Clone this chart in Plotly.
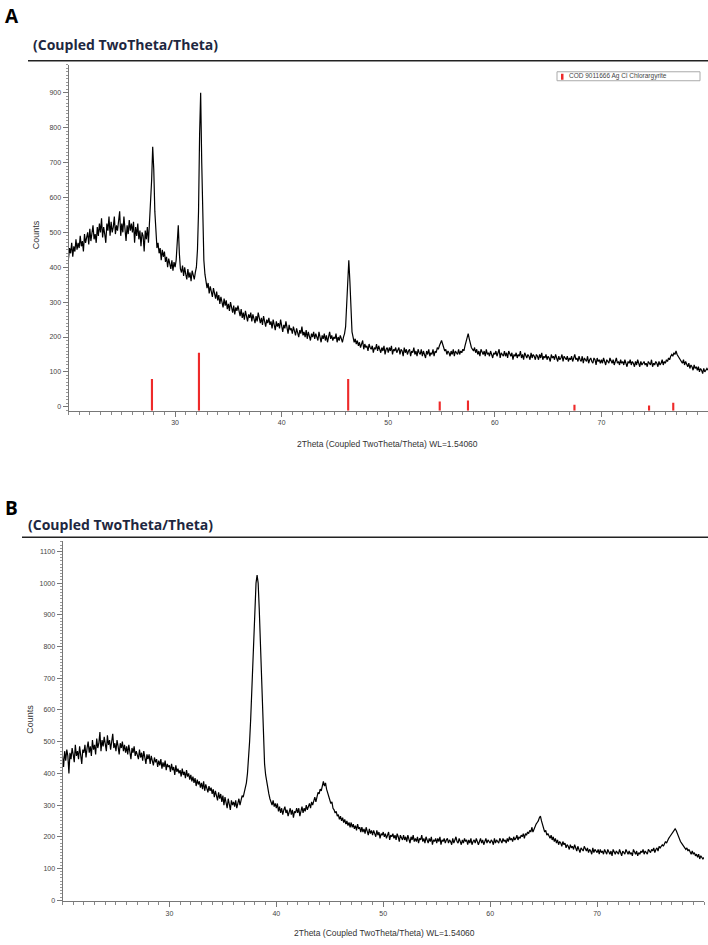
import numpy as np
import plotly.graph_objects as go

# scan positions (2theta, deg), step 0.1
two_theta = np.round(20 + 0.1 * np.arange(601), 1)

# panel A counts (one row per degree)
counts_a = [
    425, 455, 440, 470, 430, 460, 445, 480, 450, 470,
    455, 490, 460, 475, 445, 495, 470, 485, 500, 465,
    510, 475, 500, 520, 480, 495, 470, 515, 490, 525,
    500, 540, 485, 515, 495, 470, 525, 505, 545, 490,
    530, 500, 515, 545, 495, 520, 505, 535, 560, 490,
    525, 500, 545, 510, 475, 520, 495, 535, 505, 525,
    500, 530, 470, 515, 490, 525, 480, 505, 460, 500,
    490, 445, 505, 480, 515, 470, 530, 560, 650, 745,
    680, 560, 480, 455, 470, 440, 455, 420, 450, 430,
    445, 415, 430, 400, 425, 410, 395, 420, 390, 415,
    400, 420, 470, 520, 440, 395, 385, 405, 375, 400,
    380, 365, 395, 370, 385, 360, 390, 375, 365, 385,
    400, 450, 560, 780, 900, 700, 520, 420, 380, 355,
    340, 355, 325, 345, 330, 315, 340, 320, 310, 330,
    305, 320, 295, 315, 300, 285, 310, 290, 305, 280,
    295, 275, 300, 285, 270, 290, 265, 285, 275, 290,
    270, 260, 280, 255, 270, 250, 275, 260, 245, 265,
    255, 270, 245, 265, 250, 240, 260, 245, 270, 250,
    240, 255, 235, 260, 245, 230, 250, 240, 255, 235,
    245, 225, 250, 235, 220, 245, 230, 240, 225, 250,
    230, 215, 235, 225, 245, 220, 210, 235, 220, 225,
    210, 230, 215, 205, 225, 215, 200, 220, 210, 230,
    205, 215, 200, 220, 195, 215, 205, 190, 210, 200,
    215, 195, 210, 200, 190, 215, 200, 185, 205, 195,
    210, 190, 205, 185, 200, 215, 195, 205, 190, 200,
    195, 210, 185, 200, 190, 205, 195, 185, 200, 210,
    230, 290, 380, 420, 360, 260, 215, 200, 185, 195,
    180, 190, 175, 185, 170, 180, 190, 165, 180, 170,
    175, 160, 180, 170, 165, 175, 155, 170, 165, 180,
    160, 175, 165, 155, 170, 160, 175, 150, 165, 170,
    155, 170, 160, 175, 150, 165, 160, 170, 155, 165,
    170, 150, 165, 160, 145, 170, 155, 165, 150, 160,
    165, 145, 160, 155, 170, 150, 160, 145, 165, 155,
    150, 165, 145, 160, 150, 140, 160, 150, 165, 145,
    155, 150, 165, 145, 160, 155, 170, 165, 175, 185,
    190, 180, 170, 160, 165, 150, 160, 155, 145, 160,
    150, 165, 145, 160, 155, 150, 165, 150, 160, 155,
    165, 160, 175, 190, 205, 210, 195, 180, 170, 165,
    160, 170, 155, 165, 150, 160, 145, 165, 155, 150,
    160, 145, 165, 150, 155, 145, 160, 150, 140, 155,
    150, 160, 145, 155, 165, 140, 155, 150, 145, 160,
    145, 155, 140, 160, 150, 145, 155, 135, 150, 145,
    155, 140, 150, 145, 160, 140, 150, 135, 155, 145,
    140, 150, 145, 135, 155, 140, 150, 145, 135, 150,
    145, 135, 150, 140, 155, 135, 145, 140, 150, 135,
    145, 140, 130, 150, 140, 145, 135, 150, 140, 130,
    145, 135, 140, 150, 130, 145, 140, 135, 145, 130,
    140, 135, 145, 130, 140, 150, 135, 140, 130, 145,
    135, 130, 145, 125, 140, 135, 130, 145, 125, 135,
    140, 130, 125, 140, 135, 120, 140, 130, 135, 125,
    135, 125, 140, 130, 120, 135, 130, 125, 140, 130,
    125, 135, 120, 130, 140, 125, 130, 120, 135, 125,
    130, 120, 135, 125, 115, 130, 125, 135, 120, 130,
    125, 115, 130, 120, 135, 125, 115, 130, 120, 125,
    130, 120, 125, 115, 130, 125, 120, 135, 115, 125,
    120, 130, 125, 115, 130, 120, 125, 135, 120, 130,
    125, 135, 130, 140, 135, 145, 150, 145, 155, 150,
    160, 150, 145, 140, 135, 130, 125, 135, 120, 130,
    120, 115, 125, 110, 120, 115, 105, 120, 110, 115,
    105, 115, 100, 110, 105, 95, 110, 100, 105, 110,
    105,
]

# panel B counts
counts_b = [
    455, 420, 470, 440, 475, 455, 400, 465, 445, 480,
    460, 435, 490, 455, 470, 445, 485, 460, 430, 475,
    465, 490, 450, 480, 500, 465, 485, 455, 505, 475,
    490, 460, 510, 480, 495, 530, 470, 505, 485, 515,
    495, 470, 520, 490, 505, 475, 500, 525, 480, 495,
    470, 505, 485, 460, 495, 480, 500, 470, 490, 465,
    485, 460, 490, 470, 445, 480, 465, 485, 455, 470,
    460, 445, 475, 450, 465, 440, 470, 455, 430, 460,
    445, 460, 430, 455, 440, 425, 450, 435, 445, 420,
    440, 425, 445, 415, 435, 420, 440, 410, 430, 420,
    425, 405, 430, 410, 420, 395, 425, 405, 415, 400,
    410, 390, 415, 395, 405, 385, 410, 390, 400, 380,
    395, 375, 390, 370, 385, 360, 380, 365, 375, 355,
    370, 350, 375, 345, 365, 355, 340, 360, 345, 355,
    335, 350, 325, 345, 330, 315, 340, 320, 335, 310,
    330, 300, 325, 310, 290, 320, 305, 285, 315, 300,
    310, 295, 315, 290, 305, 320, 300, 315, 330, 325,
    340, 355, 370, 400, 440, 500, 570, 660, 760, 870,
    950, 1000, 1025, 1000, 920, 810, 690, 580, 490, 430,
    395, 370, 350, 335, 320, 310, 300, 315, 295, 305,
    290, 305, 280, 295, 275, 290, 270, 285, 295, 275,
    285, 265, 280, 290, 270, 285, 260, 280, 275, 290,
    275, 290, 265, 285, 295, 275, 290, 280, 300, 285,
    295, 305, 290, 310, 300, 315, 325, 310, 330, 340,
    335, 350, 345, 365, 375, 360, 370, 350, 340, 330,
    320, 305, 310, 290, 285, 275, 280, 265, 270, 255,
    265, 250, 260, 245, 255, 240, 250, 235, 245, 230,
    245, 230, 240, 225, 235, 220, 240, 225, 230, 215,
    230, 215, 225, 210, 230, 215, 205, 225, 210, 220,
    205, 220, 210, 200, 220, 205, 215, 195, 210, 205,
    215, 200, 210, 195, 205, 215, 190, 205, 200, 210,
    195, 205, 190, 210, 200, 185, 205, 195, 190, 205,
    190, 200, 185, 205, 195, 180, 200, 190, 205, 185,
    195, 185, 200, 180, 195, 190, 205, 185, 195, 180,
    200, 190, 180, 195, 185, 200, 175, 190, 185, 195,
    180, 195, 185, 200, 175, 190, 185, 195, 180, 190,
    195, 180, 190, 185, 175, 195, 180, 190, 200, 185,
    180, 195, 185, 175, 190, 180, 195, 185, 190, 175,
    190, 180, 195, 175, 185, 190, 180, 195, 185, 175,
    185, 195, 180, 190, 175, 185, 195, 180, 190, 185,
    180, 190, 185, 175, 195, 180, 190, 185, 180, 195,
    185, 180, 195, 185, 190, 180, 195, 185, 200, 190,
    195, 185, 200, 190, 195, 205, 190, 200, 195, 205,
    200, 210, 195, 210, 205, 215, 210, 220, 215, 230,
    215, 225, 230, 240, 245, 250, 260, 265, 250, 235,
    225, 215, 220, 205, 210, 200, 195, 205, 190, 200,
    185, 195, 180, 190, 175, 185, 180, 170, 185, 175,
    180, 165, 175, 170, 160, 175, 165, 170, 160, 175,
    165, 155, 170, 160, 150, 165, 160, 155, 170, 160,
    155, 165, 150, 160, 155, 145, 165, 150, 160, 155,
    150, 160, 145, 160, 150, 155, 145, 160, 150, 145,
    160, 150, 145, 155, 140, 160, 150, 145, 155, 150,
    145, 160, 150, 140, 155, 150, 145, 160, 150, 145,
    155, 145, 150, 140, 160, 150, 145, 155, 140, 150,
    145, 155, 150, 160, 145, 155, 150, 145, 160, 155,
    150, 160, 155, 165, 150, 160, 165, 155, 170, 165,
    170, 175, 170, 180, 185, 180, 190, 195, 200, 205,
    210, 215, 220, 225, 220, 210, 200, 190, 185, 180,
    175, 170, 165, 160, 165, 155, 160, 150, 145, 155,
    145, 150, 140, 145, 135, 145, 130, 140, 135, 130,
    135,
]

# reference pattern COD 9011666 (AgCl)
ref_pos = [27.83, 32.24, 46.24, 54.83, 57.48, 67.47, 74.47, 76.74]
ref_int = [80, 155, 80, 15, 18, 6, 4, 12]

x_ticks = [30, 40, 50, 60, 70]
y_ticks_a = list(range(0, 1000, 100))
y_ticks_b = list(range(0, 1200, 100))

W, H = 708, 945
A_YMIN, A_YMAX = -11, 980
B_YMIN, B_YMAX = -3, 1132

fig = go.Figure()
fig.add_trace(go.Bar(x=ref_pos, y=[v - A_YMIN for v in ref_int], base=A_YMIN,
                     width=0.2, marker=dict(color="#ee2a2a", line_width=0),
                     xaxis="x", yaxis="y", showlegend=False))
fig.add_trace(go.Scatter(x=two_theta, y=counts_a, mode="lines",
                         line=dict(color="black", width=1.2),
                         xaxis="x", yaxis="y", showlegend=False))
fig.add_trace(go.Scatter(x=two_theta, y=counts_b, mode="lines",
                         line=dict(color="black", width=1.2),
                         xaxis="x2", yaxis="y2", showlegend=False))

tickfont = dict(family="Liberation Sans", size=7, color="#444")


def xax(domain, anchor):
    return dict(domain=domain, anchor=anchor, range=[20, 80], tickmode="array",
                tickvals=x_ticks, ticks="outside", ticklen=5, tickcolor="#777",
                showline=True, linecolor="#777", linewidth=1, showgrid=False,
                zeroline=False, tickfont=tickfont,
                minor=dict(dtick=1, tick0=0, ticks="outside", ticklen=3,
                           tickcolor="#888", showgrid=False))


def yax(domain, anchor, rng, vals):
    return dict(domain=domain, anchor=anchor, range=rng, tickmode="array",
                tickvals=vals, ticks="outside", ticklen=5, tickcolor="#777",
                showline=True, linecolor="#777", linewidth=1, showgrid=False,
                zeroline=False, tickfont=tickfont,
                minor=dict(dtick=10, tick0=0, ticks="outside", ticklen=2,
                           tickcolor="#999", showgrid=False))


fig.update_layout(
    width=W, height=H, margin=dict(l=0, r=0, t=0, b=0),
    paper_bgcolor="white", plot_bgcolor="white",
    xaxis=xax([68.5 / W, 1.0], "y"),
    yaxis=yax([1 - 412 / H, 1 - 65 / H], "x", [A_YMIN, A_YMAX], y_ticks_a),
    xaxis2=xax([62.5 / W, 704 / W], "y2"),
    yaxis2=yax([1 - 904 / H, 1 - 543 / H], "x2", [B_YMIN, B_YMAX], y_ticks_b),
)


def text(x, y, s, size, color="#333", bold=False, family="Liberation Sans",
         angle=0, xanchor="center"):
    fig.add_annotation(x=x / W, y=1 - y / H, xref="paper", yref="paper",
                       text=f"<b>{s}</b>" if bold else s, showarrow=False,
                       textangle=angle, xanchor=xanchor, yanchor="middle",
                       font=dict(family=family, size=size, color=color))


def rect(x0, x1, y0, y1, **kw):
    fig.add_shape(type="rect", xref="paper", yref="paper",
                  x0=x0 / W, x1=x1 / W, y0=1 - y1 / H, y1=1 - y0 / H, **kw)


title_color = "#1e2740"
for lab, ly, ty, line_y, lx0, tx in [("A", 16, 45, 61, 28, 33),
                                      ("B", 510, 526, 539, 22, 28)]:
    text(3, ly, lab, 19, color="black", bold=True, family="Open Sans", xanchor="left")
    text(tx - 2, ty, "(Coupled TwoTheta/Theta)", 14, color=title_color,
         family="Open Sans", bold=True, xanchor="left")
    fig.add_shape(type="line", xref="paper", yref="paper",
                  x0=lx0 / W, x1=1, y0=1 - line_y / H, y1=1 - line_y / H,
                  line=dict(color="#222", width=1.5))

xt = "2Theta (Coupled TwoTheta/Theta) WL=1.54060"
text(388, 445, xt, 8.5)
text(384, 936, xt, 8.5)
text(36, 236, "Counts", 9, angle=-90)
text(30, 722, "Counts", 9, angle=-90)

# legend box for the reference sticks
rect(557, 700, 72, 81, line=dict(color="#aaa", width=1), fillcolor="white")
rect(561, 563.5, 74, 80, fillcolor="#ee2a2a", line_width=0)
text(567, 76.5, "COD 9011666 Ag Cl Chlorargyrite", 6.5, color="#444", xanchor="left")

fig.write_html("out.html", config={"displayModeBar": False},
               post_script="document.body.style.margin='0';")
